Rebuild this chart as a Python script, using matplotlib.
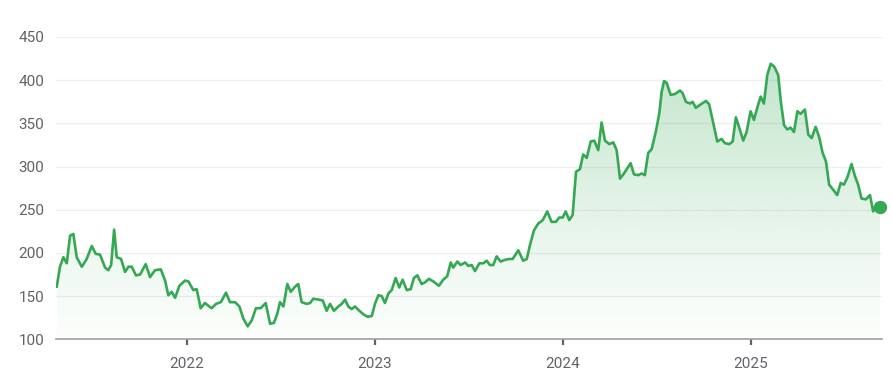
import numpy as np
import matplotlib
matplotlib.use("Agg")
import matplotlib.pyplot as plt
from matplotlib.patches import PathPatch

plt.rcParams['font.family'] = ['Roboto', 'DejaVu Sans']

# price history, dates as fractional years
dates = [
    2021.309, 2021.326, 2021.344, 2021.362, 2021.380, 2021.397, 2021.415, 2021.442,
    2021.468, 2021.495, 2021.516, 2021.539, 2021.566, 2021.583, 2021.598, 2021.614,
    2021.628, 2021.651, 2021.672, 2021.690, 2021.708, 2021.730, 2021.752, 2021.782,
    2021.805, 2021.831, 2021.862, 2021.885, 2021.902, 2021.920, 2021.938, 2021.961,
    2021.991, 2022.009, 2022.035, 2022.053, 2022.074, 2022.097, 2022.120, 2022.133,
    2022.156, 2022.181, 2022.209, 2022.230, 2022.257, 2022.280, 2022.301, 2022.324,
    2022.346, 2022.368, 2022.393, 2022.420, 2022.443, 2022.464, 2022.482, 2022.496,
    2022.514, 2022.535, 2022.553, 2022.576, 2022.593, 2022.611, 2022.638, 2022.656,
    2022.673, 2022.700, 2022.723, 2022.744, 2022.762, 2022.783, 2022.806, 2022.824,
    2022.842, 2022.859, 2022.877, 2022.895, 2022.918, 2022.939, 2022.962, 2022.984,
    2023.001, 2023.019, 2023.037, 2023.054, 2023.072, 2023.090, 2023.111, 2023.130,
    2023.148, 2023.170, 2023.191, 2023.208, 2023.226, 2023.249, 2023.267, 2023.288,
    2023.311, 2023.341, 2023.364, 2023.385, 2023.404, 2023.417, 2023.439, 2023.457,
    2023.480, 2023.497, 2023.515, 2023.533, 2023.556, 2023.577, 2023.595, 2023.612,
    2023.630, 2023.648, 2023.669, 2023.692, 2023.715, 2023.733, 2023.763, 2023.789,
    2023.808, 2023.825, 2023.846, 2023.869, 2023.893, 2023.917, 2023.940, 2023.963,
    2023.981, 2023.999, 2024.015, 2024.034, 2024.052, 2024.070, 2024.091, 2024.108,
    2024.127, 2024.148, 2024.167, 2024.188, 2024.206, 2024.224, 2024.247, 2024.268,
    2024.286, 2024.304, 2024.325, 2024.360, 2024.378, 2024.401, 2024.419, 2024.436,
    2024.454, 2024.472, 2024.495, 2024.513, 2024.525, 2024.538, 2024.552, 2024.573,
    2024.596, 2024.623, 2024.637, 2024.654, 2024.676, 2024.690, 2024.707, 2024.733,
    2024.761, 2024.778, 2024.800, 2024.821, 2024.844, 2024.862, 2024.885, 2024.903,
    2024.920, 2024.938, 2024.959, 2024.977, 2024.998, 2025.016, 2025.036, 2025.052,
    2025.069, 2025.087, 2025.105, 2025.123, 2025.145, 2025.158, 2025.176, 2025.193,
    2025.211, 2025.229, 2025.247, 2025.264, 2025.287, 2025.305, 2025.323, 2025.344,
    2025.363, 2025.381, 2025.399, 2025.416, 2025.438, 2025.459, 2025.477, 2025.494,
    2025.512, 2025.535, 2025.553, 2025.570, 2025.588, 2025.611, 2025.633, 2025.650,
    2025.668, 2025.686,
]

prices = [
    161, 184, 195, 188, 220, 222, 195, 184,
    193, 208, 199, 198, 183, 180, 186, 227,
    195, 193, 178, 184, 184, 174, 175, 187,
    172, 180, 181, 168, 151, 155, 148, 162,
    168, 167, 157, 158, 136, 142, 138, 136,
    141, 143, 154, 143, 143, 138, 124, 115,
    122, 136, 136, 142, 118, 119, 130, 143,
    138, 164, 155, 161, 164, 143, 141, 142,
    147, 146, 145, 133, 141, 133, 138, 141,
    146, 138, 135, 138, 133, 129, 126, 127,
    141, 151, 150, 142, 153, 157, 171, 160,
    169, 157, 158, 171, 174, 164, 166, 170,
    167, 162, 169, 173, 189, 183, 190, 186,
    189, 185, 186, 179, 188, 188, 191, 186,
    186, 196, 190, 192, 193, 193, 203, 191,
    193, 209, 226, 234, 238, 248, 236, 236,
    241, 241, 248, 238, 244, 294, 297, 314,
    310, 329, 330, 319, 351, 330, 326, 328,
    319, 286, 292, 304, 291, 290, 292, 290,
    316, 320, 341, 362, 386, 399, 397, 383,
    384, 388, 385, 375, 373, 375, 368, 372,
    376, 372, 350, 329, 332, 327, 326, 329,
    357, 345, 330, 340, 364, 354, 370, 381,
    373, 406, 419, 416, 406, 377, 348, 343,
    345, 340, 364, 361, 366, 337, 333, 346,
    334, 316, 306, 279, 273, 267, 281, 279,
    287, 303, 289, 279, 263, 262, 267, 248,
    257, 253,
]

year_ticks = [2022, 2023, 2024, 2025]
year_labels = ["2022", "2023", "2024", "2025"]
price_ticks = [100, 150, 200, 250, 300, 350, 400, 450]

green = "#34a853"
label_color = "#5f6368"

fig = plt.figure(figsize=(8.92, 3.85), dpi=100)
ax = fig.add_axes([0.0628, 0.1187, 0.926, 0.7852])

x0, x1 = 2021.305, 2025.697
y0, y1 = 100, 450
ax.set_xlim(x0, x1)
ax.set_ylim(y0, y1)

# gradient fill under the line
grad = np.linspace(0, 1, 256).reshape(-1, 1)
cmap_rgba = np.zeros((256, 1, 4))
cmap_rgba[..., 0] = 0x34 / 255
cmap_rgba[..., 1] = 0xa8 / 255
cmap_rgba[..., 2] = 0x53 / 255
cmap_rgba[..., 3] = 0.015 + 0.28 * grad ** 1.1
img = ax.imshow(cmap_rgba, extent=[x0, x1, y0, 420], origin="lower",
                aspect="auto", zorder=1, interpolation="bilinear")
poly = ax.fill_between(dates, prices, y0, color="none", lw=0)
clip = PathPatch(poly.get_paths()[0], transform=ax.transData, facecolor="none", edgecolor="none")
ax.add_patch(clip)
img.set_clip_path(clip)

ax.plot(dates, prices, color=green, lw=1.9, zorder=3, solid_joinstyle="round")
ax.plot(dates[-1], prices[-1], "o", color=green, ms=8.6, zorder=4, clip_on=False)

ax.set_yticks(price_ticks)
ax.set_yticklabels([str(p) for p in price_ticks])
ax.set_xticks(year_ticks)
ax.set_xticklabels(year_labels)

for p in price_ticks[1:]:
    ax.axhline(p, color="#eeeeee", lw=0.9, zorder=0)

for s in ["top", "right", "left"]:
    ax.spines[s].set_visible(False)
ax.spines["bottom"].set_color("#9aa0a6")
ax.spines["bottom"].set_linewidth(1.2)

ax.tick_params(axis="y", length=0, pad=8.5, labelsize=11, labelcolor=label_color)
ax.tick_params(axis="x", length=4.5, width=1.6, color="#5f6368", pad=8,
               labelsize=11, labelcolor=label_color)

fig.savefig("out.png", dpi=100)
